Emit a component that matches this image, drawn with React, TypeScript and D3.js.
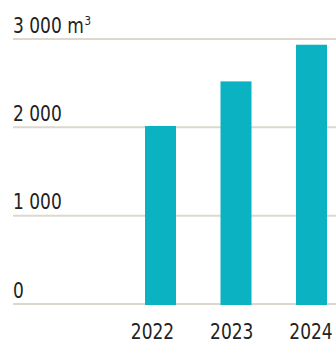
import React from "react";
import * as d3 from "d3";

const years = ["2022", "2023", "2024"];
const values = [2015, 2520, 2935];
const yTicks = [0, 1000, 2000, 3000];
const yTickLabels = ["0", "1 000", "2 000", "3 000"];
const unitLabel = "m";
const unitSup = "3";

const W = 336;
const H = 344;
const FONT = "'DejaVu Sans Condensed', 'DejaVu Sans', sans-serif";
const SX = 0.88;

export default function App() {
  const y = d3.scaleLinear().domain([0, 3000]).range([304, 39]);
  const x = d3
    .scaleBand<string>()
    .domain(years)
    .range([122.75, 349.25])
    .paddingInner(1 - 31 / 75.5)
    .paddingOuter((1 - 31 / 75.5) / 2);
  const xl = d3.scalePoint<string>().domain(years).range([152.5, 311]);

  return (
    <svg
      width={W}
      height={H}
      style={{ position: "absolute", left: 0, top: 0, display: "block" }}
      fontFamily={FONT}
    >
      {yTicks.map((t, i) => (
        <g key={t}>
          <line x1={13} x2={336} y1={y(t)} y2={y(t)} stroke="#dcd8cd" strokeWidth={2} />
          <g transform={`translate(13,${y(t) - 6.5}) scale(${SX},1)`}>
            <text x={0} y={0} fontSize={21.5} fill="#222">
              {yTickLabels[i]}
              {t === 3000 ? (
                <>
                  <tspan> {unitLabel}</tspan>
                  <tspan fontSize={13} dy={-8} dx={1}>{unitSup}</tspan>
                </>
              ) : null}
            </text>
          </g>
        </g>
      ))}
      {years.map((yr, i) => (
        <rect
          key={yr}
          x={x(yr)}
          width={x.bandwidth()}
          y={y(values[i])}
          height={y(0) - y(values[i]) + 1}
          fill="#0bb2c2"
        />
      ))}
      {years.map((yr) => (
        <g key={yr} transform={`translate(${xl(yr)},339) scale(${SX},1)`}>
          <text x={0} y={0} fontSize={21.5} fill="#222" textAnchor="middle">
            {yr}
          </text>
        </g>
      ))}
    </svg>
  );
}
